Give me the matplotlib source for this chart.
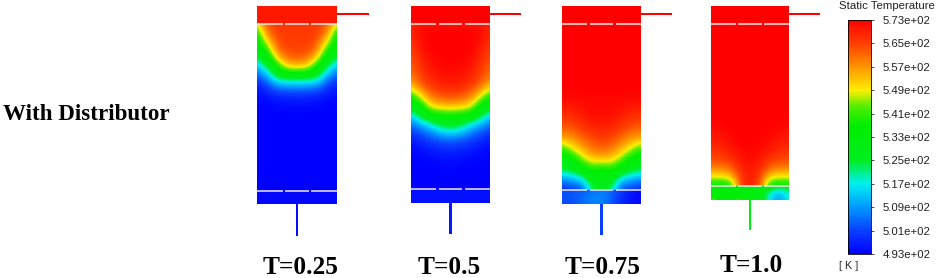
import numpy as np
import matplotlib
matplotlib.use('Agg')
from matplotlib import pyplot as plt
from matplotlib.cm import ScalarMappable
from matplotlib.colors import LinearSegmentedColormap, Normalize
from matplotlib.patches import Rectangle

time_labels = ['T=0.25', 'T=0.5', 'T=0.75', 'T=1.0']
tick_temps = [493, 501, 509, 517, 525, 533, 541, 549, 557, 565, 573]
tick_labels = ['4.93e+02', '5.01e+02', '5.09e+02', '5.17e+02', '5.25e+02', '5.33e+02',
               '5.41e+02', '5.49e+02', '5.57e+02', '5.65e+02', '5.73e+02']

# temperatures, wall to centre (the left half of each column), top to bottom
body_025 = [[548, 564, 566, 566, 566],
            [535, 558, 565, 566, 566],
            [533, 545, 563, 565, 565],
            [528, 533, 555, 563, 564],
            [512, 525, 538, 552, 554],
            [503, 510, 526, 529, 529],
            [496, 500, 507, 508, 508],
            [494, 495, 496, 497, 497],
            [493, 493, 494, 494, 494],
            [493, 493, 493, 493, 493],
            [493, 493, 493, 493, 493],
            [493, 493, 493, 493, 493],
            [493, 493, 493, 493, 493],
            [493, 493, 493, 493, 493],
            [493, 493, 493, 493, 493],
            [493, 493, 493, 493, 493],
            [493, 493, 493, 493, 493]]
body_05 = [[568, 571, 571, 571, 571],
           [568, 572, 573, 573, 573],
           [566, 571, 573, 573, 573],
           [564, 569, 572, 573, 573],
           [562, 567, 571, 572, 572],
           [560, 565, 569, 571, 571],
           [552, 562, 566, 568, 569],
           [538, 549, 560, 563, 564],
           [530, 535, 550, 552, 553],
           [512, 525, 532, 534, 535],
           [503, 508, 513, 522, 525],
           [497, 500, 503, 506, 507],
           [494, 495, 497, 498, 499],
           [493, 494, 494, 495, 495],
           [493, 493, 493, 493, 494],
           [493, 493, 493, 493, 493],
           [493, 493, 493, 493, 493]]
body_075 = [[573, 573, 573, 573, 573],
            [573, 573, 573, 573, 573],
            [573, 573, 573, 573, 573],
            [573, 573, 573, 573, 573],
            [573, 573, 573, 573, 573],
            [573, 573, 573, 573, 573],
            [573, 573, 573, 573, 573],
            [572, 572, 572, 572, 572],
            [570, 570, 571, 572, 572],
            [566, 567, 569, 571, 571],
            [562, 563, 566, 568, 569],
            [556, 557, 561, 564, 566],
            [540, 548, 555, 560, 562],
            [532, 535, 545, 552, 553],
            [525, 527, 532, 540, 535],
            [507, 511, 515, 530, 530],
            [498, 499, 500, 522, 528]]
body_10 = [[573, 573, 573, 573, 573],
           [573, 573, 573, 573, 573],
           [573, 573, 573, 573, 573],
           [573, 573, 573, 573, 573],
           [573, 573, 573, 573, 573],
           [573, 573, 573, 573, 573],
           [573, 573, 573, 573, 573],
           [573, 573, 573, 573, 573],
           [573, 573, 573, 573, 573],
           [573, 573, 573, 573, 573],
           [572, 572, 573, 573, 573],
           [570, 571, 572, 573, 573],
           [568, 569, 571, 572, 573],
           [565, 566, 568, 571, 572],
           [561, 561, 563, 569, 571],
           [550, 551, 553, 566, 570],
           [535, 534, 534, 565, 570]]

# lower plenum, full width
plenum_025 = [[494, 494, 494, 494, 494, 494, 494, 494, 494]]
plenum_05 = [[495, 495, 495, 495, 495, 495, 495, 495, 495]]
plenum_075 = [[502, 502, 503, 505, 507, 505, 500, 496, 494],
              [503, 503, 505, 507, 508, 504, 499, 495, 494],
              [501, 502, 504, 507, 507, 503, 498, 495, 494]]
plenum_10 = [[536, 535, 534, 538, 534, 533, 534, 526, 530],
             [533, 532, 533, 529, 530, 531, 518, 511, 520],
             [546, 534, 535, 545, 532, 534, 516, 508, 518]]

top_temps = [570, 573, 573, 573]
stem_temps = [495, 496, 501, 530]
outlet_temp = 573

body_tables = [body_025, body_05, body_075, body_10]
plenum_tables = [plenum_025, plenum_05, plenum_075, plenum_10]

# pixel layout of each panel: left, right, upper line, lower line, bottom, stem end, outlet end, label x, label y
panels = [(257, 337, 24, 191, 204, 236, 369, 301, 267),
          (411, 490, 24, 189, 203, 234, 521, 449, 267),
          (562, 641, 24, 190, 204, 235, 672, 603, 267),
          (711, 789, 24, 186, 200, 230, 820, 751, 265)]

cmap = LinearSegmentedColormap.from_list('fluent', [
    (0.0, '#0000ff'), (0.1, '#0a40ff'), (0.2, '#009aff'), (0.3, '#00f0f0'),
    (0.4, '#00ee20'), (0.55, '#00ee00'), (0.63, '#50ee00'), (0.7, '#ffee00'),
    (0.8, '#ff9500'), (0.9, '#ff4000'), (1.0, '#ff0000')])
norm = Normalize(493, 573)


def draw_field(ax, table, x0, x1, y0, y1):
    # cell centres sit on the box edges, the overhang gets clipped
    table = np.array(table, dtype=float)
    nrow, ncol = table.shape
    dx = (x1 - x0) / max(ncol - 1, 1)
    dy = (y1 - y0) / max(nrow - 1, 1)
    im = ax.imshow(table, cmap=cmap, norm=norm, interpolation='bicubic', aspect='auto',
                   extent=(x0 - dx / 2, x1 + dx / 2, y1 + dy / 2, y0 - dy / 2), zorder=2)
    im.set_clip_path(Rectangle((x0, y0), x1 - x0, y1 - y0, transform=ax.transData))


def draw_line(ax, x0, x1, y):
    w = x1 - x0
    for a, b in [(0, 0.32), (0.35, 0.65), (0.68, 1)]:
        ax.plot([x0 + a * w, x0 + b * w], [y, y], color='#eee8e8', lw=1.1, zorder=4,
                solid_capstyle='butt')


fig = plt.figure(figsize=(9.41, 2.78), dpi=100)
ax = fig.add_axes([0, 0, 1, 1])

for i, (x0, x1, y_up, y_low, y_bot, y_stem, x_out, x_lab, y_lab) in enumerate(panels):
    half = np.array(body_tables[i])
    body = np.hstack([half, half[:, -2::-1]])
    draw_field(ax, body, x0, x1, y_up, y_low)
    draw_field(ax, plenum_tables[i], x0, x1, y_low, y_bot)
    ax.add_patch(Rectangle((x0, 6), x1 - x0, y_up - 6, color=cmap(norm(top_temps[i])), lw=0, zorder=2))
    ax.add_patch(Rectangle((x1, 13), x_out - x1, 2.4, color=cmap(norm(outlet_temp)), lw=0, zorder=2))
    xc = (x0 + x1) / 2
    ax.add_patch(Rectangle((xc - 1.2, y_bot), 2.4, y_stem - y_bot, color=cmap(norm(stem_temps[i])), lw=0, zorder=2))
    draw_line(ax, x0, x1, y_up)
    draw_line(ax, x0, x1, y_low)
    ax.text(x_lab, y_lab, time_labels[i], family='Liberation Serif', weight='bold', fontsize=18.3,
            ha='center', va='center', color='black')

ax.set_xlim(0, 941)
ax.set_ylim(278, 0)
ax.axis('off')

ax.text(3, 114, 'With Distributor', family='Liberation Serif', weight='bold', fontsize=16.6,
        va='center', color='black')
ax.text(839, 6, 'Static Temperature', family='Liberation Sans', fontsize=8.2, va='center', color='#222222')
ax.text(839, 266, '[ K ]', family='Liberation Sans', fontsize=7.8, va='center', color='#222222')

cax = fig.add_axes([848 / 941, 1 - 254 / 278, 23 / 941, 234 / 278])
cb = fig.colorbar(ScalarMappable(norm=norm, cmap=cmap), cax=cax, ticks=tick_temps)
cb.ax.set_yticklabels(tick_labels, family='Liberation Sans', fontsize=8.2, color='#222222')
cb.ax.tick_params(length=2.5, width=0.6, pad=6, color='#333333')
cb.outline.set_linewidth(0.6)

fig.savefig('out.png', dpi=100)
